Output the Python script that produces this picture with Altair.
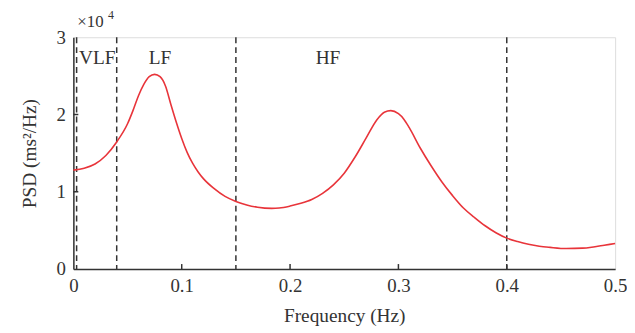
import altair as alt
import pandas as pd

# PSD curve (frequency in Hz, PSD in ms^2/Hz)
freq = [0.0, 0.01, 0.02, 0.03, 0.04, 0.05, 0.055, 0.06, 0.065, 0.07, 0.075, 0.08, 0.085,
        0.09, 0.095, 0.10, 0.105, 0.11, 0.115, 0.12, 0.13, 0.14, 0.15, 0.16, 0.17, 0.183,
        0.19, 0.20, 0.21, 0.22, 0.23, 0.24, 0.25, 0.26, 0.27, 0.28, 0.287, 0.293, 0.30,
        0.305, 0.31, 0.32, 0.33, 0.34, 0.35, 0.36, 0.37, 0.38, 0.39, 0.40, 0.41, 0.42,
        0.43, 0.44, 0.455, 0.47, 0.48, 0.49, 0.50]
psd = [12800, 13050, 13600, 14700, 16450, 18800, 20500, 22400, 23900, 24900, 25200, 24900, 23700,
       21300, 19000, 16900, 15100, 13700, 12600, 11700, 10400, 9400, 8750, 8300, 8000, 7850,
       7900, 8150, 8500, 9000, 9800, 10900, 12400, 14500, 16900, 19300, 20300, 20500, 20100,
       19400, 18300, 15700, 13400, 11300, 9500, 7900, 6700, 5600, 4700, 4000, 3550, 3200,
       2950, 2800, 2650, 2700, 2860, 3080, 3300]

band_edges = [0.003, 0.04, 0.15, 0.4]
band_labels = ["VLF", "LF", "HF"]
band_label_x = [0.022, 0.08, 0.235]
band_label_y = [27300, 27300, 27300]

x_ticks = [0, 0.1, 0.2, 0.3, 0.4, 0.5]
y_ticks = [0, 10000, 20000, 30000]

W, H = 547, 234
FONT = "Liberation Serif"
TXT = "#333333"

curve_df = pd.DataFrame({"f": freq, "psd": psd})
edges_df = pd.DataFrame({"f": band_edges})
labels_df = pd.DataFrame({"f": band_label_x, "psd": band_label_y, "label": band_labels})
xt_df = pd.DataFrame({"f": x_ticks[1:-1]})
yt_df = pd.DataFrame({"psd": y_ticks[1:-1]})

xscale = alt.Scale(domain=[0, 0.5], nice=False, zero=False)
yscale = alt.Scale(domain=[0, 30000], nice=False)

xaxis = alt.Axis(title="Frequency (Hz)", values=x_ticks, tickSize=0, labelPadding=8,
                 labelFlush=False, labelOverlap=False,
                 labelFont=FONT, labelFontSize=19, labelColor=TXT,
                 titleFont=FONT, titleFontSize=19.5, titleColor=TXT, titleFontWeight="normal",
                 titlePadding=11, grid=False, domainColor="#333333", domainWidth=1.5,
                 labelExpr="datum.value == 0 ? '0' : format(datum.value, '.1f')")
yaxis = alt.Axis(title="PSD (ms²/Hz)", values=y_ticks, tickSize=0, labelPadding=8,
                 labelFlush=False,
                 labelFont=FONT, labelFontSize=19, labelColor=TXT,
                 titleFont=FONT, titleFontSize=19.5, titleColor=TXT, titleFontWeight="normal",
                 titlePadding=17, grid=False, domainColor="#333333", domainWidth=1.5,
                 labelExpr="format(datum.value / 10000, 'd')")

curve = alt.Chart(curve_df).mark_line(color="#e8343a", strokeWidth=1.6, interpolate="monotone").encode(
    x=alt.X("f:Q", scale=xscale, axis=xaxis),
    y=alt.Y("psd:Q", scale=yscale, axis=yaxis),
)

edges = alt.Chart(edges_df).mark_rule(color="#333333", strokeWidth=1.5, strokeDash=[6, 4]).encode(
    x=alt.X("f:Q", scale=xscale),
    y=alt.value(0),
    y2=alt.value(H),
)

labels = alt.Chart(labels_df).mark_text(font=FONT, fontSize=19.5, color=TXT, baseline="middle").encode(
    x=alt.X("f:Q", scale=xscale),
    y=alt.Y("psd:Q", scale=yscale),
    text="label:N",
)

xt = alt.Chart(xt_df).mark_rule(color="#333333", strokeWidth=1.5).encode(
    x=alt.X("f:Q", scale=xscale), y=alt.value(H), y2=alt.value(H - 5)
)
yt = alt.Chart(yt_df).mark_rule(color="#333333", strokeWidth=1.5).encode(
    y=alt.Y("psd:Q", scale=yscale), x=alt.value(0), x2=alt.value(5)
)

exp_base = alt.Chart(pd.DataFrame({"t": ["×10"]})).mark_text(
    font=FONT, fontSize=17, color=TXT, align="left", baseline="alphabetic"
).encode(x=alt.value(4), y=alt.value(-10), text="t:N")
exp_sup = alt.Chart(pd.DataFrame({"t": ["4"]})).mark_text(
    font=FONT, fontSize=12, color=TXT, align="left", baseline="alphabetic"
).encode(x=alt.value(35), y=alt.value(-18), text="t:N")

chart = alt.layer(edges, curve, labels, xt, yt, exp_base, exp_sup).properties(
    width=W, height=H,
    autosize=alt.AutoSizeParams(type="none"),
    padding={"left": 66, "top": 28, "right": 12, "bottom": 57},
).configure_view(stroke=None).configure(background="white")

chart.save("out.html", embed_options={"renderer": "svg", "actions": False})
